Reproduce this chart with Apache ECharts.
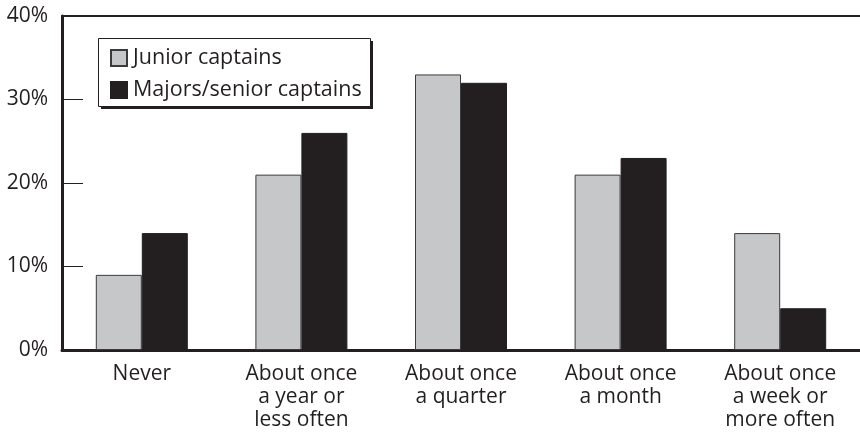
<!DOCTYPE html>
<html><head><meta charset="utf-8">
<script src="https://cdn.jsdelivr.net/npm/echarts@6/dist/echarts.min.js"></script>
<style>html,body{margin:0;padding:0;background:#fff}#c{width:860px;height:433px}</style>
</head><body><div id="c"></div>
<script>
const categories = ["Never", "About once\na year or\nless often", "About once\na quarter", "About once\na month", "About once\na week or\nmore often"];
const juniorCaptains = [9, 21, 33, 21, 14];
const seniorCaptains = [14, 26, 32, 23, 5];
const yTicks = [0, 10, 20, 30, 40];

const ink = '#231f20';
const FONT = '"Open Sans", "Noto Sans", sans-serif';
const chart = echarts.init(document.getElementById('c'), null, {renderer: 'canvas'});
chart.setOption({
  animation: false,
  textStyle: {fontFamily: FONT},
  grid: {left: 62, right: -2, top: 16, bottom: 83, containLabel: false},
  graphic: [
    {type: 'rect', z: 5, left: 101, top: 41, shape: {width: 272, height: 68}, style: {fill: ink}},
    {type: 'rect', z: 5, left: 98, top: 38, shape: {width: 272, height: 68}, style: {fill: '#fff', stroke: ink, lineWidth: 1}}
  ],
  legend: {
    z: 10,
    orient: 'vertical', left: 110, top: 47,
    padding: 0,
    itemGap: 10, itemWidth: 16, itemHeight: 16, icon: 'rect',
    textStyle: {fontFamily: FONT, fontSize: 21.5, color: ink, padding: [0, 0, 0, 1]},
    data: ['Junior captains', 'Majors/senior captains']
  },
  xAxis: [{
    type: 'category', data: categories,
    axisLine: {lineStyle: {color: ink, width: 3}},
    axisTick: {inside: true, length: 22, alignWithLabel: false, lineStyle: {color: ink, width: 1.5}},
    axisLabel: {fontFamily: FONT, fontSize: 21, color: ink, lineHeight: 23, margin: 13}
  }, {
    type: 'category', data: categories, position: 'top',
    axisLine: {show: true, lineStyle: {color: ink, width: 2}},
    axisTick: {show: false}, axisLabel: {show: false}
  }],
  yAxis: {
    type: 'value', min: yTicks[0], max: yTicks[yTicks.length - 1], interval: 10,
    axisLine: {show: true, lineStyle: {color: ink, width: 3}},
    axisTick: {show: true, inside: true, length: 21, lineStyle: {color: ink, width: 1}},
    splitLine: {show: false},
    axisLabel: {fontFamily: FONT, fontSize: 21, color: ink, margin: 14, formatter: v => v + '%'}
  },
  series: [{
    name: 'Junior captains', type: 'bar', data: juniorCaptains,
    barWidth: 46, barGap: '0%',
    itemStyle: {color: '#c6c7c9', borderColor: '#3a3a3a', borderWidth: 1}
  }, {
    name: 'Majors/senior captains', type: 'bar', data: seniorCaptains,
    barWidth: 46, barGap: '0%',
    itemStyle: {color: ink, borderColor: ink, borderWidth: 1}
  }]
});
</script></body></html>
